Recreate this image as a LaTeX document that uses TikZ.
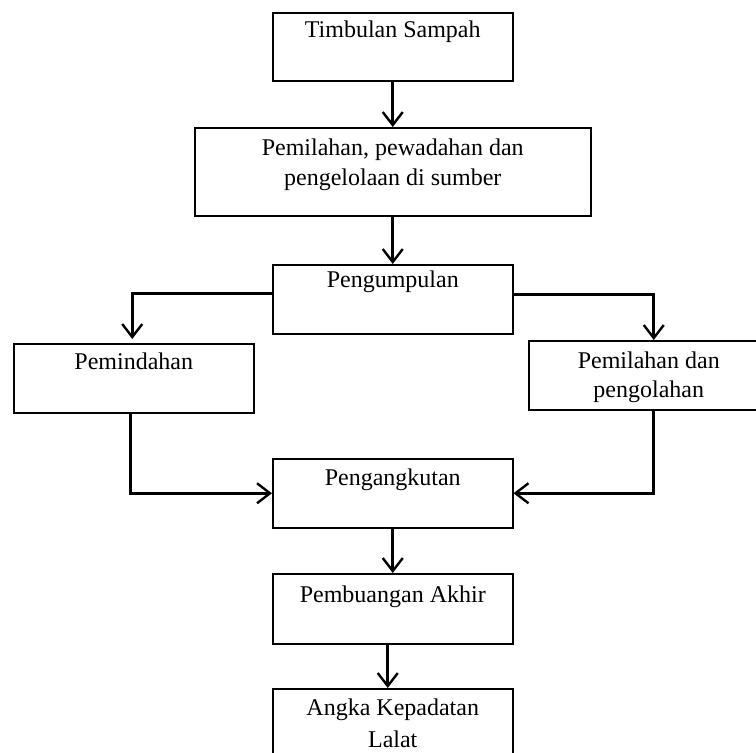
\documentclass[tikz,border=0pt]{standalone}
\usepackage{fontspec}
\setmainfont{Liberation Serif}
\usetikzlibrary{arrows.meta,positioning}
\tikzset{
  boxn/.style={draw=black, line width=1.5pt, fill=white, inner sep=0pt, anchor=north west},
  txt/.style={inner sep=0pt, anchor=base, font=\fontsize{24pt}{30pt}\selectfont, text=black},
  conn/.style={draw=black, line width=3pt, -{Straight Barb[length=13pt,width=20pt,line width=2.4pt]}}
}
\begin{document}
\begin{tikzpicture}[x=1pt,y=-1pt]
\clip (0,0) rectangle (756,753);
\fill[white] (0,0) rectangle (756,753);
% boxes
\node[boxn, minimum width=240pt, minimum height=68pt] (b1) at (272,12) {};
\node[boxn, minimum width=396pt, minimum height=88pt] (b2) at (194,127) {};
\node[boxn, minimum width=240pt, minimum height=69pt] (b3) at (272,264) {};
\node[boxn, minimum width=240pt, minimum height=69pt] (b4) at (13,343) {};
\node[boxn, minimum width=240pt, minimum height=69pt] (b5) at (528,340) {};
\node[boxn, minimum width=240pt, minimum height=69pt] (b6) at (272,458) {};
\node[boxn, minimum width=240pt, minimum height=70pt] (b7) at (272,573) {};
\node[boxn, minimum width=240pt, minimum height=85pt] (b8) at (272,688) {};
% texts
\node[txt] (t1) at ([yshift=-25pt]b1.north) {Timbulan Sampah};
\node[txt] (t2a) at ([yshift=-28pt]b2.north) {Pemilahan, pewadahan dan};
\node[txt] (t2b) at ([yshift=-58pt]b2.north) {pengelolaan di sumber};
\node[txt] (t3) at ([yshift=-23pt]b3.north) {Pengumpulan};
\node[txt] (t4) at ([yshift=-26pt]b4.north) {Pemindahan};
\node[txt] (t5a) at ([yshift=-28pt]b5.north) {Pemilahan dan};
\node[txt] (t5b) at ([yshift=-57pt]b5.north) {pengolahan};
\node[txt] (t6) at ([yshift=-27pt]b6.north) {Pengangkutan};
\node[txt] (t7) at ([yshift=-29pt]b7.north) {Pembuangan Akhir};
\node[txt] (t8a) at ([yshift=-27pt]b8.north) {Angka Kepadatan};
\node[txt] (t8b) at ([yshift=-59pt]b8.north) {Lalat};
% connectors
\draw[conn] (b1.south) -- (b2.north);
\draw[conn] (b2.south) -- (b3.north);
\draw[conn] ([yshift=6pt]b3.west) -| ([xshift=-1.5pt,yshift=4pt]b4.north);
\draw[conn] ([yshift=5pt]b3.east) -| ([xshift=5pt]b5.north);
\draw[conn] ([xshift=-3.5pt]b4.south) |- (b6.west);
\draw[conn] ([xshift=5pt]b5.south) |- (b6.east);
\draw[conn] (b6.south) -- (b7.north);
\draw[conn] ([xshift=-5pt]b7.south) -- ([xshift=-5pt]b8.north);
\end{tikzpicture}
\end{document}
